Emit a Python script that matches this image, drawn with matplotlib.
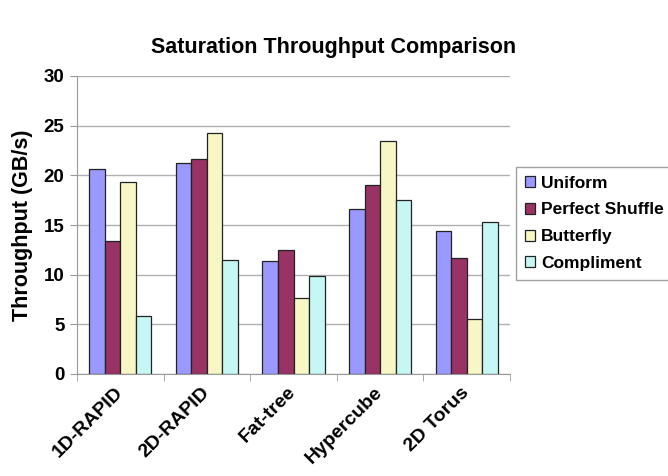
import numpy as np
import matplotlib.pyplot as plt
import matplotlib.transforms as mtransforms

plt.rcParams['font.family'] = ['Liberation Sans', 'DejaVu Sans']
plt.rcParams['font.weight'] = 'bold'

categories = ["1D-RAPID", "2D-RAPID", "Fat-tree", "Hypercube", "2D Torus"]
series = ["Uniform", "Perfect Shuffle", "Butterfly", "Compliment"]
uniform = [20.6, 21.2, 11.4, 16.6, 14.4]
perfect_shuffle = [13.4, 21.6, 12.5, 19.0, 11.7]
butterfly = [19.3, 24.3, 7.7, 23.5, 5.5]
compliment = [5.8, 11.5, 9.9, 17.5, 15.3]
colors = ["#9999FF", "#993366", "#F7F7C6", "#C6F7F4"]

values = [uniform, perfect_shuffle, butterfly, compliment]

fig = plt.figure(figsize=(6.68, 4.76), dpi=100)
ax = fig.add_axes([77 / 668, 1 - 374 / 476, 433 / 668, 298 / 476])

x = np.arange(len(categories))
w = 0.18
for i, (name, vals) in enumerate(zip(series, values)):
    ax.bar(x + (i - 1.5) * w, vals, w, color=colors[i], edgecolor="#222222",
           linewidth=0.9, label=name, zorder=3)

ax.set_xlim(-0.5, len(categories) - 0.5)
ax.set_ylim(0, 30)
ax.set_yticks(range(0, 31, 5))
ax.yaxis.grid(True, color="#b0b0b0", linewidth=1, zorder=0)
ax.set_xticks(x)
ax.set_xticklabels(categories, rotation=45, ha="right", rotation_mode="anchor",
                   fontsize=14, fontweight="bold")
ax.tick_params(axis="x", length=0, pad=7)
shift = mtransforms.ScaledTranslation(-6 / 100, 0, fig.dpi_scale_trans)
for lab in ax.get_xticklabels():
    lab.set_transform(lab.get_transform() + shift)
ax.set_xticks(np.arange(-0.5, len(categories), 1), minor=True)
ax.tick_params(axis="x", which="minor", length=5, color="#999999")
ax.tick_params(axis="y", labelsize=13.5, length=5, color="#999999", pad=4)
for lab in ax.get_yticklabels():
    lab.set_fontweight("bold")

for s in ["top", "right"]:
    ax.spines[s].set_visible(False)
ax.spines["left"].set_color("#999999")
ax.spines["bottom"].set_color("#999999")

ax.set_ylabel("Throughput (GB/s)", fontsize=15.5, fontweight="bold", labelpad=8)
fig.text(0.5, 1 - 47 / 476, "Saturation Throughput Comparison", ha="center",
         va="center", fontsize=15.5, fontweight="bold")

leg = ax.legend(loc="upper left", bbox_to_anchor=(516 / 668, 1 - 167 / 476),
                bbox_transform=fig.transFigure, borderaxespad=0, frameon=True,
                fancybox=False, edgecolor="#888888",
                prop={"size": 12.5, "weight": "bold"},
                handlelength=0.6, handleheight=0.6, handletextpad=0.35,
                labelspacing=0.68, borderpad=0.5)
leg.get_frame().set_linewidth(1.0)

fig.savefig("out.png", dpi=100)
